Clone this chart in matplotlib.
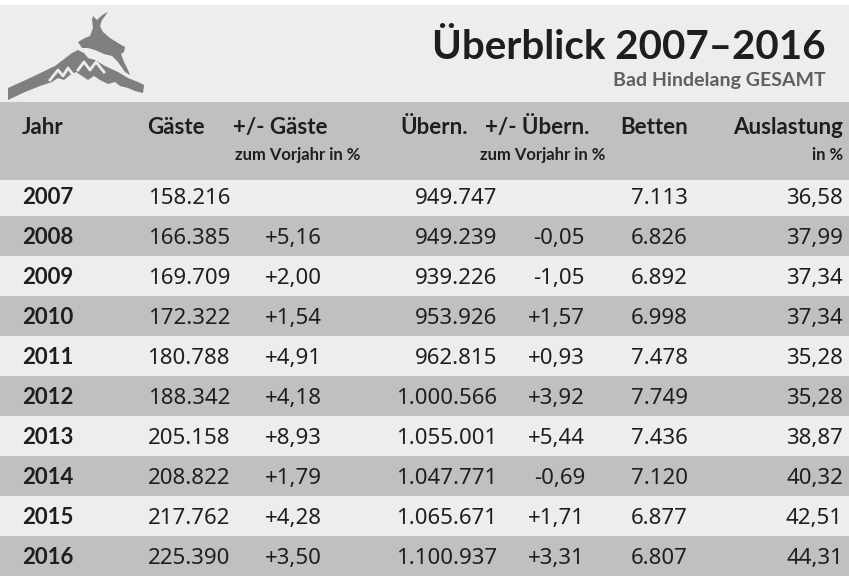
import matplotlib.pyplot as plt
from matplotlib.patches import Rectangle, Polygon

plt.rcParams['font.family'] = ['Lato', 'DejaVu Sans']

# Daten
jahre = [2007, 2008, 2009, 2010, 2011, 2012, 2013, 2014, 2015, 2016]
gaeste = [158216, 166385, 169709, 172322, 180788, 188342, 205158, 208822, 217762, 225390]
gaeste_diff = [None, 5.16, 2.00, 1.54, 4.91, 4.18, 8.93, 1.79, 4.28, 3.50]
uebern = [949747, 949239, 939226, 953926, 962815, 1000566, 1055001, 1047771, 1065671, 1100937]
uebern_diff = [None, -0.05, -1.05, 1.57, 0.93, 3.92, 5.44, -0.69, 1.71, 3.31]
betten = [7113, 6826, 6892, 6998, 7478, 7749, 7436, 7120, 6877, 6807]
auslastung = [36.58, 37.99, 37.34, 37.34, 35.28, 35.28, 38.87, 40.32, 42.51, 44.31]

HELL = '#ededed'
GRAU = '#c0c0bf'
TEXT = '#1e1e1e'
LOGO = '#7f7f7f'


def tsd(v):
    return f'{v:,}'.replace(',', '.')


def proz(v, vorzeichen=False):
    if v is None:
        return ''
    s = f'{v:+.2f}' if vorzeichen else f'{v:.2f}'
    return s.replace('.', ',')


fig = plt.figure(figsize=(8.49, 5.76), dpi=100, facecolor='white')
ax = fig.add_axes([0, 0, 1, 1])
ax.set_xlim(0, 849)
ax.set_ylim(576, 0)
ax.axis('off')

# Kopfbereich
ax.add_patch(Rectangle((0, 5), 849, 97, color=HELL, lw=0))
ax.add_patch(Rectangle((0, 102), 849, 78, color=GRAU, lw=0))

# Logo (Gams auf Berg, grob nachgezeichnet)
berg = [(8, 88), (30, 78), (55, 66), (72, 53), (78, 50), (84, 53), (88, 58), (95, 60),
        (105, 66), (118, 72), (128, 78), (138, 82), (144, 85), (143, 93), (135, 91),
        (128, 88), (120, 86), (115, 82), (108, 84), (100, 80), (94, 76), (88, 80),
        (82, 76), (76, 72), (70, 75), (64, 80), (58, 78), (52, 82), (40, 86), (25, 92), (8, 100)]
gams = [(78, 42), (85, 38), (90, 36), (93, 28), (92, 20), (93, 16), (97, 20), (100, 17),
        (104, 14), (108, 12), (105, 16), (102, 20), (100, 26), (103, 32), (110, 38),
        (118, 43), (125, 47), (124, 52), (121, 54), (124, 62), (128, 70), (130, 75),
        (125, 72), (118, 62), (112, 56), (104, 54), (95, 50), (88, 48), (82, 48)]
ax.add_patch(Polygon(berg, closed=True, color=LOGO, lw=0))
ax.add_patch(Polygon(gams, closed=True, color=LOGO, lw=0))
ax.plot([50, 58, 63, 68, 74], [80, 70, 76, 68, 76], color=HELL, lw=2)
ax.plot([78, 84, 90, 96, 104], [70, 62, 70, 62, 72], color=HELL, lw=2)

ax.text(826, 59, 'Überblick 2007–2016', ha='right', va='baseline',
        fontsize=29, fontweight='bold', color=TEXT)
ax.text(826, 86, 'Bad Hindelang GESAMT', ha='right', va='baseline',
        fontsize=14, fontweight='bold', color='#5f5f5f')

# Spaltenköpfe
kopf = dict(va='baseline', fontsize=16, fontweight='bold', color=TEXT)
klein = dict(va='baseline', fontsize=12, fontweight='bold', color=TEXT)
ax.text(22, 134, 'Jahr', ha='left', **kopf)
ax.text(205, 134, 'Gäste', ha='right', **kopf)
ax.text(233, 134, '+/- Gäste', ha='left', **kopf)
ax.text(235, 160, 'zum Vorjahr in %', ha='left', **klein)
ax.text(468, 134, 'Übern.', ha='right', **kopf)
ax.text(485, 134, '+/- Übern.', ha='left', **kopf)
ax.text(605, 160, 'zum Vorjahr in %', ha='right', **klein)
ax.text(688, 134, 'Betten', ha='right', **kopf)
ax.text(843, 134, 'Auslastung', ha='right', **kopf)
ax.text(843, 160, 'in %', ha='right', **klein)

# Zeilen
zahl = dict(va='baseline', fontsize=16, family=['Noto Sans', 'DejaVu Sans'], color=TEXT)
for i, jahr in enumerate(jahre):
    oben = 180 if i == 0 else 176 + 40 * i
    unten = 216 + 40 * i
    ax.add_patch(Rectangle((0, oben), 849, unten - oben,
                           color=HELL if i % 2 == 0 else GRAU, lw=0))
    y = 204 + 40 * i
    ax.text(22, y, str(jahr), ha='left', va='baseline', fontsize=16,
            fontweight='bold', color=TEXT)
    ax.text(230, y, tsd(gaeste[i]), ha='right', **zahl)
    ax.text(322, y, proz(gaeste_diff[i], True), ha='right', **zahl)
    ax.text(497, y, tsd(uebern[i]), ha='right', **zahl)
    ax.text(585, y, proz(uebern_diff[i], True), ha='right', **zahl)
    ax.text(688, y, tsd(betten[i]), ha='right', **zahl)
    ax.text(843, y, proz(auslastung[i]), ha='right', **zahl)

fig.savefig('out.png', dpi=100, facecolor='white')
